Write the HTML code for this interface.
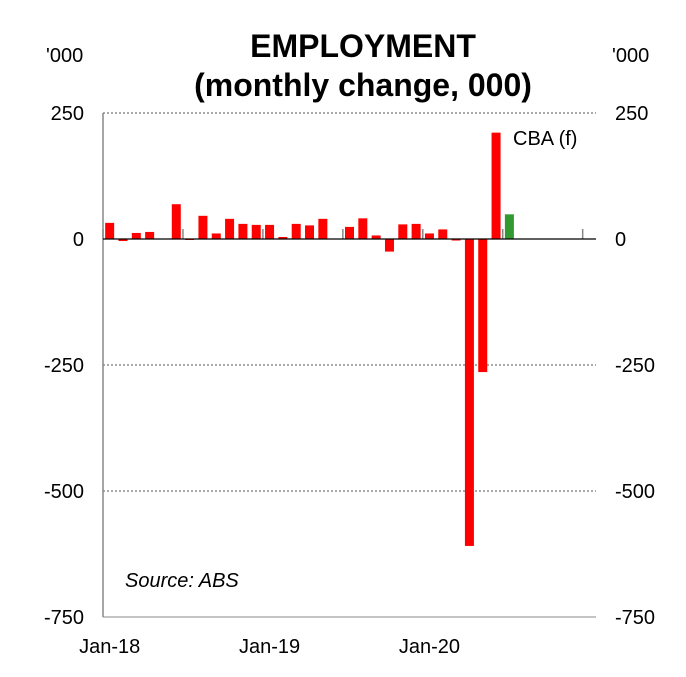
<!DOCTYPE html>
<html><head><meta charset="utf-8"><style>
body{margin:0;background:#fff;}
svg text{font-family:"Liberation Sans",Arial,sans-serif;}
</style></head><body>
<svg width="686" height="672" viewBox="0 0 686 672">
<g id="grid"></g><g id="bars"></g><g id="labels"></g>
<text x="363" y="57" text-anchor="middle" font-size="32" font-weight="bold">EMPLOYMENT</text>
<text x="363" y="96" text-anchor="middle" font-size="32" font-weight="bold">(monthly change, 000)</text>
<text x="46" y="62" font-size="20">'000</text>
<text x="612" y="62" font-size="20">'000</text>
<text x="513" y="145" font-size="20">CBA (f)</text>
<text x="125" y="587" font-size="20" font-style="italic">Source: ABS</text>
</svg>
<script>
const categories=["Jan-18","Feb-18","Mar-18","Apr-18","May-18","Jun-18","Jul-18","Aug-18","Sep-18","Oct-18","Nov-18","Dec-18","Jan-19","Feb-19","Mar-19","Apr-19","May-19","Jun-19","Jul-19","Aug-19","Sep-19","Oct-19","Nov-19","Dec-19","Jan-20","Feb-20","Mar-20","Apr-20","May-20","Jun-20","Jul-20","Aug-20","Sep-20","Oct-20","Nov-20","Dec-20","Jan-21"];
const actual=[32,-4,12,14,0,69,-2,46,11,40,30,28,28,4,30,27,40,0,24,41,7,-25,29,30,11,19,-3,-609,-264,211,null,null,null,null,null,null,null];
const forecast=[null,null,null,null,null,null,null,null,null,null,null,null,null,null,null,null,null,null,null,null,null,null,null,null,null,null,null,null,null,null,49,null,null,null,null,null,null];
const yTicks=[250,0,-250,-500,-750];
const yTickLabels=["250","0","-250","-500","-750"];
const xLabels=["Jan-18","Jan-19","Jan-20"];
const NS="http://www.w3.org/2000/svg";
const L=103,R=596,T=113,B=617,yMin=-750,yMax=250;
const bw=(R-L)/categories.length;
const y=v=>T+(yMax-v)/(yMax-yMin)*(B-T);
const x=i=>L+(i+0.5)*bw;
function mk(tag,attrs,parent){const e=document.createElementNS(NS,tag);for(const k in attrs)e.setAttribute(k,attrs[k]);parent.appendChild(e);return e;}
const grid=document.getElementById('grid'),bars=document.getElementById('bars'),lab=document.getElementById('labels');
yTicks.forEach((t,i)=>{
  if(t!==0&&t!==yMin){const g=mk('line',{x1:L,x2:R,y1:y(t),y2:y(t),stroke:'#555','stroke-width':1,'stroke-dasharray':'2,2'},grid);
  
  }
  const a=mk('text',{x:84,y:y(t)+7,'text-anchor':'end','font-size':20},lab);a.textContent=yTickLabels[i];
  
  
  const b=mk('text',{x:615,y:y(t)+7,'font-size':20},lab);b.textContent=yTickLabels[i];
  
  
});
const ax=mk('line',{x1:L,x2:L,y1:T,y2:B,stroke:'#888','stroke-width':1.5},grid);


const bx=mk('line',{x1:L,x2:R,y1:B,y2:B,stroke:'#888','stroke-width':1},grid);


for(let i=0;i<=categories.length;i+=6){const tk=mk('line',{x1:L+i*bw,x2:L+i*bw,y1:y(0)-10,y2:y(0),stroke:'#888','stroke-width':1.5},grid);

}
function drawBar(i,v,color,name){const y0=y(0),yv=y(v);
  const r=mk('rect',{x:x(i)-4.5,y:Math.min(y0,yv),width:9,height:Math.max(1,Math.abs(yv-y0)),fill:color},bars);
  
  }
actual.forEach((v,i)=>{if(v!==null&&v!==0)drawBar(i,v,'#ff0000','bar-'+categories[i].toLowerCase());});
forecast.forEach((v,i)=>{if(v!==null)drawBar(i,v,'#339933','forecast-bar-'+categories[i].toLowerCase());});
const z=mk('line',{x1:L,x2:R,y1:y(0),y2:y(0),stroke:'#000','stroke-width':1.2},bars);


xLabels.forEach(s=>{const i=categories.indexOf(s);const t=mk('text',{x:x(i),y:653,'text-anchor':'middle','font-size':20},lab);t.textContent=s;

});
</script>
</body></html>
